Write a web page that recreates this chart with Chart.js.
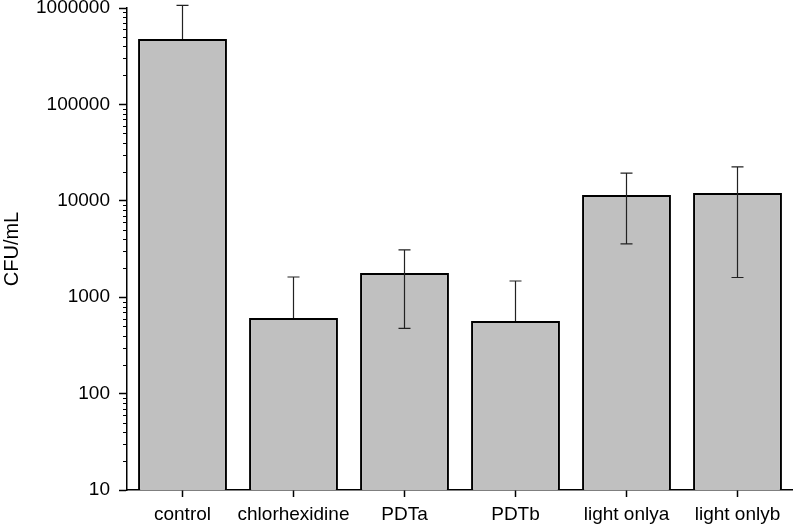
<!DOCTYPE html>
<html>
<head>
<meta charset="utf-8">
<script src="https://cdn.jsdelivr.net/npm/chart.js@4"></script>
<style>
  html, body { margin: 0; padding: 0; background: #fff; }
  #wrap { width: 793px; height: 526px; }
</style>
</head>
<body>
<div id="wrap"><canvas id="cfu"></canvas></div>
<script>
const categories = ["control", "chlorhexidine", "PDTa", "PDTb", "light onlya", "light onlyb"];
const meanCfu = [477000, 608, 1783, 566, 11480, 12050];
const sdCfu = [590000, 1012, 1307, 907, 7900, 10450];
const yTicks = [10, 100, 1000, 10000, 100000, 1000000];

const fontFamily = "'Liberation Sans', Arial, sans-serif";

// error bars + minor log ticks, drawn through the scales
const extrasPlugin = {
  id: "extras",
  afterDatasetsDraw(chart) {
    const { ctx, scales } = chart;
    const y = scales.y;
    const meta = chart.getDatasetMeta(0);

    ctx.save();
    ctx.strokeStyle = "#222";
    ctx.lineWidth = 1.2;
    meta.data.forEach((bar, i) => {
      const cx = bar.x;
      const hi = y.getPixelForValue(meanCfu[i] + sdCfu[i]);
      const lowVal = meanCfu[i] - sdCfu[i];
      const lo = lowVal > 0 ? y.getPixelForValue(lowVal) : y.getPixelForValue(meanCfu[i]);
      ctx.beginPath();
      ctx.moveTo(cx, hi);
      ctx.lineTo(cx, lo);
      ctx.moveTo(cx - 6, hi);
      ctx.lineTo(cx + 6, hi);
      if (lowVal > 0) {
        ctx.moveTo(cx - 6, lo);
        ctx.lineTo(cx + 6, lo);
      }
      ctx.stroke();
    });

    // minor ticks on log axis
    ctx.strokeStyle = "#000";
    ctx.lineWidth = 1;
    for (let d = 10; d < 1000000; d *= 10) {
      for (let m = 2; m <= 9; m++) {
        const py = Math.round(y.getPixelForValue(d * m)) + 0.5;
        ctx.beginPath();
        ctx.moveTo(y.right - 4, py);
        ctx.lineTo(y.right, py);
        ctx.stroke();
      }
    }
    ctx.restore();
  }
};

new Chart(document.getElementById("cfu"), {
  type: "bar",
  data: {
    labels: categories,
    datasets: [{
      data: meanCfu,
      backgroundColor: "#c0c0c0",
      borderColor: "#000",
      borderWidth: 2,
      borderSkipped: "bottom",
      barPercentage: 0.8,
      categoryPercentage: 1
    }]
  },
  options: {
    responsive: true,
    maintainAspectRatio: false,
    animation: false,
    devicePixelRatio: 1,
    layout: { padding: { top: 8, right: 0, left: 0, bottom: 0 } },
    plugins: {
      legend: { display: false },
      tooltip: { enabled: false }
    },
    scales: {
      x: {
        offset: true,
        grid: { display: true, drawOnChartArea: false, offset: false, tickLength: 7, tickColor: "#000", tickWidth: 1.5 },
        border: { display: true, color: "#000", width: 1.5 },
        ticks: { color: "#000", padding: 6, font: { family: fontFamily, size: 19 }, maxRotation: 0, autoSkip: false },
        afterFit(scale) { scale.height = 36; scale.paddingLeft = 0; scale.paddingRight = 0; }
      },
      y: {
        type: "logarithmic",
        min: 10,
        max: 1000000,
        afterBuildTicks(scale) { scale.ticks = yTicks.map((v) => ({ value: v })); },
        grid: { display: true, drawOnChartArea: false, tickLength: 8, tickColor: "#000", tickWidth: 1.5 },
        border: { display: true, color: "#000", width: 1.5 },
        ticks: {
          color: "#000",
          padding: 9,
          font: { family: fontFamily, size: 19 },
          callback: (value) => String(value)
        },
        title: {
          display: true,
          text: "CFU/mL",
          color: "#000",
          font: { family: fontFamily, size: 20 },
          padding: { top: 0, bottom: 2 }
        },
        afterFit(scale) { scale.width = 127; scale.paddingTop = 0; scale.paddingBottom = 0; }
      }
    }
  },
  plugins: [extrasPlugin]
});
</script>
</body>
</html>
